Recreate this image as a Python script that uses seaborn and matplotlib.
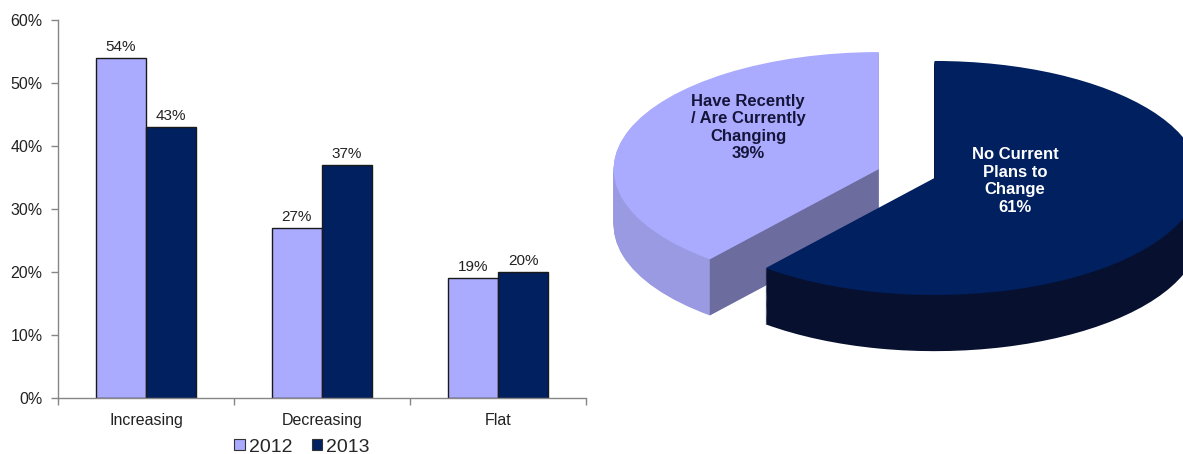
import numpy as np
import pandas as pd
import matplotlib
matplotlib.use('Agg')
import matplotlib.pyplot as plt
import seaborn as sns
from matplotlib.patches import Patch, Polygon

# ---------------- data ----------------
categories = ['Increasing', 'Decreasing', 'Flat']
years = ['2012', '2013']
values_2012 = [54, 27, 19]
values_2013 = [43, 37, 20]
y_ticks = [0, 10, 20, 30, 40, 50, 60]

pie_labels = ['No Current\nPlans to\nChange', 'Have Recently\n/ Are Currently\nChanging']
pie_values = [61, 39]

# ---------------- style ----------------
light = '#aaaaff'
navy = '#002060'
axis_grey = '#868686'

sns.set_style('white')
plt.rcParams['font.family'] = ['Liberation Sans', 'DejaVu Sans']

fig = plt.figure(figsize=(11.83, 4.54), dpi=100)

# ---------------- bar chart ----------------
ax = fig.add_axes([58 / 1183, 56 / 454, (586 - 58) / 1183, (398 - 20) / 454])
df = pd.DataFrame({
    'category': categories * 2,
    'year': [years[0]] * 3 + [years[1]] * 3,
    'value': values_2012 + values_2013,
})
sns.barplot(data=df, x='category', y='value', hue='year', order=categories,
            hue_order=years, palette=[light, navy], width=0.57, gap=0,
            edgecolor='#1a1a1a', linewidth=1, saturation=1, errorbar=None,
            legend=False, ax=ax)

for c in ax.containers:
    ax.bar_label(c, labels=[f'{v:.0f}%' for v in c.datavalues], padding=3,
                 fontsize=11, color='#222222')

ax.set_xlim(-0.5, 2.5)
ax.set_ylim(0, 60)
ax.set_yticks(y_ticks)
ax.set_yticklabels([f'{t}%' for t in y_ticks])
ax.set_xticks([-0.5, 0.5, 1.5, 2.5])
ax.set_xticklabels([])
ax.set_xticks([0, 1, 2], minor=True)
ax.set_xticklabels(categories, minor=True)
ax.set_xlabel('')
ax.set_ylabel('')
ax.tick_params(axis='x', which='major', bottom=True, length=5, width=1,
               color=axis_grey, direction='out')
ax.tick_params(axis='x', which='minor', bottom=True, length=0, pad=11,
               labelsize=11.5, labelcolor='#222222')
ax.tick_params(axis='y', left=True, length=5, width=1, color=axis_grey,
               direction='out', pad=6, labelsize=11.5, labelcolor='#222222')
for s in ['top', 'right']:
    ax.spines[s].set_visible(False)
for s in ['left', 'bottom']:
    ax.spines[s].set_color(axis_grey)
    ax.spines[s].set_linewidth(1)

fig.legend(handles=[Patch(facecolor=light, edgecolor='#333333', linewidth=0.8),
                    Patch(facecolor=navy, edgecolor='#333333', linewidth=0.8)],
           labels=years, loc='center', bbox_to_anchor=(302 / 1183, 1 - 447 / 454),
           ncol=2, frameon=False, fontsize=14, handlelength=0.55,
           handleheight=0.55, handletextpad=0.2, columnspacing=1.0,
           borderpad=0)

# ---------------- 3D-look pie ----------------
pax = fig.add_axes([600 / 1183, 0, 583 / 1183, 1])
explode = [0.112, 0.112]
depth = 0.48
n_layers = 60
side_colors = ['#07112f', '#9a9ae2']
top_colors = [navy, light]

for k in range(n_layers, 0, -1):
    dz = depth * k / n_layers
    w, _ = pax.pie(pie_values, explode=explode, startangle=90, counterclock=False,
                   center=(0, -dz), colors=side_colors,
                   wedgeprops=dict(linewidth=0))
    w[0].set_zorder(4)
    w[1].set_zorder(1)

# visible cut face of the light slice
total = sum(pie_values)
boundary = np.deg2rad(90 - 360 * pie_values[0] / total)
mid_light = np.deg2rad(90 - 360 * (pie_values[0] + pie_values[1] / 2) / total)
ox, oy = explode[1] * np.cos(mid_light), explode[1] * np.sin(mid_light)
px, py = ox + np.cos(boundary), oy + np.sin(boundary)
pax.add_patch(Polygon([(ox, oy), (px, py), (px, py - depth), (ox, oy - depth)],
                      closed=True, facecolor='#6c6c9f', edgecolor='none', zorder=2))

w, _ = pax.pie(pie_values, explode=explode, startangle=90, counterclock=False,
               center=(0, 0), colors=top_colors, wedgeprops=dict(linewidth=0))
w[0].set_zorder(5)
w[1].set_zorder(3)

pax.text(0.409, -0.064, f'{pie_labels[0]}\n{pie_values[0]}%', ha='center', va='center',
         fontsize=12, fontweight='bold', color='white', zorder=6, linespacing=1.2)
pax.text(-0.598, 0.393, f'{pie_labels[1]}\n{pie_values[1]}%', ha='center', va='center',
         fontsize=12, fontweight='bold', color='#15153a', zorder=6, linespacing=1.2)

pax.set_xlim(-1.157, 1.043)
pax.set_ylim(-2.397, 1.483)
pax.set_aspect('auto')
pax.axis('off')

fig.savefig('out.png', dpi=100)
